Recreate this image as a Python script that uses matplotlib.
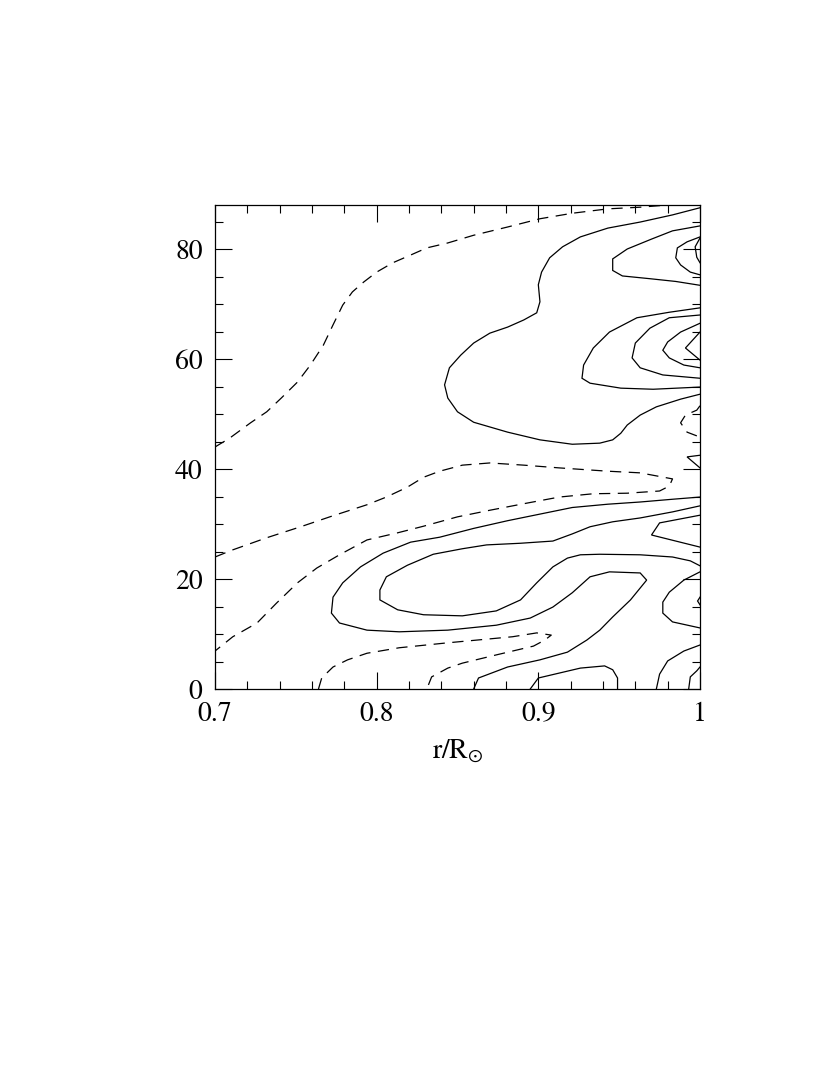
import matplotlib
matplotlib.use("Agg")
import matplotlib.pyplot as plt
from matplotlib.ticker import MultipleLocator

plt.rcParams['font.family'] = ['STIXGeneral', 'DejaVu Serif']
plt.rcParams['mathtext.fontset'] = 'stix'

# contour lines: r/Rsun vs latitude (deg)
# dashed (negative) levels
d1_r = [0.700, 0.709, 0.722, 0.732, 0.741, 0.751, 0.759, 0.767, 0.773, 0.779, 0.785, 0.792,
        0.800, 0.810, 0.821, 0.831, 0.844, 0.860, 0.881, 0.901, 0.921, 0.943, 0.963, 0.980]
d1_lat = [44.0, 45.6, 48.4, 50.4, 52.9, 55.8, 58.9, 62.5, 66.2, 69.8, 72.2, 74.0,
          75.8, 77.5, 78.9, 80.2, 81.1, 82.5, 84.0, 85.5, 86.5, 87.3, 87.6, 88.0]

d2_r = [1.000, 0.998, 0.991, 0.988, 0.992, 1.000]
d2_lat = [51.5, 50.7, 49.8, 48.4, 46.7, 45.8]

d3_r = [0.700, 0.711, 0.732, 0.753, 0.773, 0.794, 0.806, 0.819, 0.829, 0.839, 0.853, 0.870,
        0.891, 0.913, 0.943, 0.963, 0.983, 0.981, 0.975, 0.955, 0.934, 0.913, 0.893, 0.870,
        0.850, 0.829, 0.813, 0.794, 0.777, 0.763, 0.751, 0.738, 0.726, 0.711, 0.700]
d3_lat = [24.0, 25.3, 27.5, 29.5, 31.5, 33.5, 34.9, 36.7, 38.5, 39.6, 40.7, 41.1,
          40.7, 40.2, 39.6, 39.3, 38.2, 36.9, 36.0, 35.6, 35.5, 34.9, 33.8, 32.5,
          31.3, 29.6, 28.4, 27.1, 24.4, 22.0, 19.3, 15.6, 12.0, 9.5, 6.9]

d4_r = [0.764, 0.766, 0.773, 0.782, 0.794, 0.814, 0.844, 0.884, 0.899, 0.908, 0.904, 0.897,
        0.874, 0.853, 0.844, 0.834, 0.831]
d4_lat = [0.0, 2.0, 4.0, 5.3, 6.5, 7.5, 8.4, 9.5, 10.2, 9.8, 8.9, 7.8,
          6.2, 4.7, 3.8, 2.2, 0.0]

# solid (positive) levels
s1_r = [1.000, 0.983, 0.963, 0.943, 0.926, 0.915, 0.907, 0.902, 0.900, 0.901, 0.899, 0.891,
        0.881, 0.870, 0.860, 0.852, 0.845, 0.842, 0.844, 0.850, 0.860, 0.881, 0.901, 0.921,
        0.938, 0.946, 0.951, 0.955, 0.963, 0.973, 0.988, 1.000]
s1_lat = [87.5, 86.2, 84.9, 83.8, 82.2, 80.4, 78.4, 75.8, 73.5, 70.4, 68.4, 67.1,
          65.8, 64.7, 62.9, 60.7, 58.4, 55.3, 52.9, 50.4, 48.5, 46.7, 45.3, 44.5,
          44.7, 45.3, 46.5, 48.0, 49.8, 51.3, 52.7, 53.6]

s2_r = [1.000, 0.983, 0.970, 0.955, 0.946, 0.946, 0.952, 0.969, 0.985, 1.000]
s2_lat = [84.2, 83.3, 81.8, 80.0, 78.2, 76.1, 75.1, 74.6, 74.1, 73.4]

s3_r = [1.000, 0.992, 0.986, 0.985, 0.988, 0.994, 1.000]
s3_lat = [82.2, 81.3, 80.2, 78.4, 77.1, 75.8, 75.3]

s4_r = [1.000, 0.997, 0.998, 1.000]
s4_lat = [82.0, 80.4, 78.5, 77.5]

s5_r = [1.000, 0.981, 0.961, 0.944, 0.934, 0.928, 0.927, 0.932, 0.951, 0.971, 1.000]
s5_lat = [69.3, 68.5, 67.5, 64.9, 62.0, 58.9, 56.5, 55.6, 54.7, 54.5, 54.9]

s6_r = [1.000, 0.981, 0.969, 0.960, 0.958, 0.963, 0.977, 1.000]
s6_lat = [68.0, 67.5, 65.6, 62.9, 60.2, 58.4, 57.1, 56.5]

s7_r = [1.000, 0.988, 0.980, 0.977, 0.981, 0.990, 1.000]
s7_lat = [66.5, 64.9, 63.1, 61.6, 60.2, 58.9, 58.4]

s8_r = [1.000, 0.991, 1.000]
s8_lat = [64.9, 62.0, 59.8]

s9_r = [1.000, 0.992, 1.000]
s9_lat = [42.5, 42.2, 40.2]

s10_r = [1.000, 0.983, 0.963, 0.943, 0.921, 0.901, 0.881, 0.860, 0.839, 0.821, 0.804, 0.790,
         0.779, 0.773, 0.772, 0.777, 0.794, 0.814, 0.844, 0.874, 0.895, 0.909, 0.921, 0.932,
         0.944, 0.963, 0.967, 0.957, 0.946, 0.938, 0.930, 0.918, 0.901, 0.881, 0.863, 0.860]
s10_lat = [34.9, 34.5, 34.0, 33.6, 33.0, 31.8, 30.6, 29.2, 27.6, 26.7, 24.7, 22.2,
           19.3, 16.7, 13.8, 12.0, 10.7, 10.4, 10.7, 11.6, 12.9, 14.9, 17.5, 20.4,
           21.3, 21.1, 19.8, 16.2, 13.1, 10.7, 8.9, 6.7, 5.3, 4.0, 2.0, 0.0]

s11_r = [1.000, 0.983, 0.963, 0.946, 0.932, 0.921, 0.909, 0.889, 0.868, 0.853, 0.835, 0.819,
         0.806, 0.802, 0.802, 0.813, 0.829, 0.853, 0.874, 0.889, 0.899, 0.909, 0.918, 0.926,
         0.938, 0.963, 0.983, 0.994, 1.000]
s11_lat = [33.3, 32.2, 31.1, 30.4, 29.5, 28.2, 26.9, 26.5, 26.2, 25.5, 24.5, 22.5,
           20.4, 18.0, 16.2, 14.4, 13.5, 13.3, 14.2, 16.2, 19.3, 22.2, 23.8, 24.4,
           24.5, 24.4, 24.0, 23.3, 22.4]

s12_r = [1.000, 0.975, 0.970, 1.000]
s12_lat = [31.6, 30.2, 28.0, 25.8]

s13_r = [1.000, 0.990, 0.981, 0.977, 0.977, 0.983, 1.000]
s13_lat = [21.3, 19.8, 17.6, 15.8, 13.8, 12.2, 11.1]

s14_r = [1.000, 0.9985, 1.000]
s14_lat = [16.7, 16.0, 15.3]

s15_r = [1.000, 0.990, 0.980, 0.975, 0.973]
s15_lat = [8.0, 6.9, 5.1, 2.7, 0.0]

s16_r = [1.000, 0.998, 0.994, 0.993]
s16_lat = [4.0, 3.3, 2.2, 0.0]

s17_r = [0.895, 0.900, 0.926, 0.941, 0.946, 0.949, 0.949]
s17_lat = [0.0, 2.0, 3.8, 4.2, 3.5, 2.0, 0.0]

dashed = [(d1_r, d1_lat), (d2_r, d2_lat), (d3_r, d3_lat), (d4_r, d4_lat)]
solid = [(s1_r, s1_lat), (s2_r, s2_lat), (s3_r, s3_lat), (s4_r, s4_lat), (s5_r, s5_lat),
         (s6_r, s6_lat), (s7_r, s7_lat), (s8_r, s8_lat), (s9_r, s9_lat), (s10_r, s10_lat),
         (s11_r, s11_lat), (s12_r, s12_lat), (s13_r, s13_lat), (s14_r, s14_lat),
         (s15_r, s15_lat), (s16_r, s16_lat), (s17_r, s17_lat)]

fig = plt.figure(figsize=(8.30, 10.75), dpi=100)
ax = fig.add_axes([215 / 830, 1 - 689 / 1075, 485 / 830, 484 / 1075])

for r, lat in solid:
    ax.plot(r, lat, color='black', lw=0.9, solid_joinstyle='miter')
for r, lat in dashed:
    ax.plot(r, lat, color='black', lw=0.9, dashes=(9, 6))

ax.set_xlim(0.7, 1.0)
ax.set_ylim(0, 88)
ax.set_xticks([0.7, 0.8, 0.9, 1.0])
ax.set_xticklabels(['0.7', '0.8', '0.9', '1'])
ax.set_yticks([0, 20, 40, 60, 80])
ax.xaxis.set_minor_locator(MultipleLocator(0.02))
ax.yaxis.set_minor_locator(MultipleLocator(5))
ax.tick_params(which='both', direction='in', top=True, right=True, width=0.8, labelsize=20)
ax.tick_params(which='major', length=12, pad=9)
ax.tick_params(which='minor', length=6)
for sp in ax.spines.values():
    sp.set_linewidth(0.9)

ax.set_xlabel(r'$\mathrm{r/R}_{\odot}$', fontsize=20, labelpad=8)

fig.savefig('out.png', dpi=100)
